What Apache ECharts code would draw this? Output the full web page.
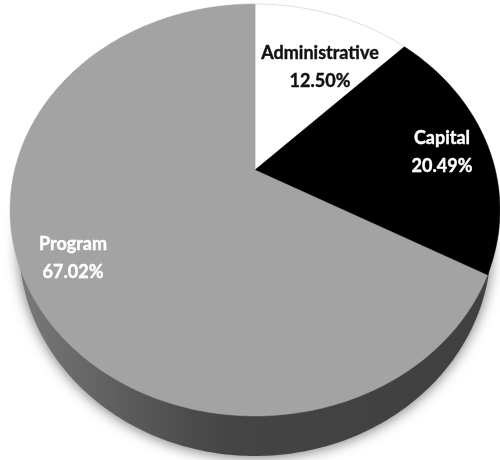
<!DOCTYPE html>
<html><head><meta charset="utf-8">
<style>html,body{margin:0;padding:0;background:#fff}#c{width:500px;height:460px}</style>
<script src="https://cdn.jsdelivr.net/npm/echarts@6/dist/echarts.min.js"></script>
</head><body><div id="c"></div>
<script>
const categories = ['Administrative', 'Capital', 'Program'];
const shares = [12.50, 20.49, 67.02];
const sliceColors = ['#ffffff', '#000000', '#a3a3a3'];
const labelColors = ['#111111', '#ffffff', '#ffffff'];

// Perspective view of the pie disc
const view = {cx: 255, cy: 210, a: 206, b: 40, c: 240.3, k: 0.194};
const labelAt = [[320, 67], [442, 152], [73, 258]];
const total = shares.reduce((s, v) => s + v, 0);
function project(r, t) {
  const u = r * Math.sin(t), v = r * Math.cos(t), w = 1 + view.k * v;
  return [view.cx + view.c * u / w, view.cy - (view.a * v + view.b) / w];
}
function slice(i) {
  let before = 0;
  for (let j = 0; j < i; j++) before += shares[j];
  const t0 = before / total * 2 * Math.PI, t1 = (before + shares[i]) / total * 2 * Math.PI;
  const n = Math.max(8, Math.ceil((t1 - t0) * 60));
  const pts = [project(0, 0)];
  for (let s = 0; s <= n; s++) pts.push(project(1, t0 + (t1 - t0) * s / n));
  return pts;
}
function wallPoints() {
  const pts = [];
  for (let s = 0; s < 360; s++) {
    const t = s / 360 * 2 * Math.PI;
    pts.push([255 + 236 * Math.cos(t), 245 + 211 * Math.sin(t)]);
  }
  return pts;
}
const chart = echarts.init(document.getElementById('c'), null, {renderer: 'canvas', width: 500, height: 460});
chart.setOption({
  backgroundColor: '#ffffff',
  animation: false,
  series: [
    {
      type: 'custom', coordinateSystem: 'none', silent: true, data: [shares[2]],
      renderItem: () => ({
        type: 'polygon', shape: {points: wallPoints()},
        style: {
          fill: new echarts.graphic.LinearGradient(0, 0, 1, 0, [
            {offset: 0, color: '#7a7a7a'}, {offset: 0.1, color: '#6c6c6c'},
            {offset: 0.24, color: '#5a5a5a'}, {offset: 0.38, color: '#4a4a4a'},
            {offset: 0.46, color: '#444444'}, {offset: 1, color: '#404040'}
          ]),
          shadowBlur: 14, shadowColor: 'rgba(0,0,0,0.55)', shadowOffsetY: 1
        }
      })
    },
    {
      type: 'custom', coordinateSystem: 'none', silent: true,
      data: categories.map((name, i) => ({name, value: shares[i]})),
      renderItem: (params) => {
        const i = params.dataIndex;
        return {
          type: 'polygon', shape: {points: slice(i)},
          style: {fill: sliceColors[i], stroke: i === 0 ? '#c8c8c8' : sliceColors[i], lineWidth: i === 0 ? 0.6 : 0.5}
        };
      }
    },
    {
      type: 'custom', coordinateSystem: 'none', silent: true, z: 5,
      data: categories.map((name, i) => ({name, value: shares[i]})),
      renderItem: (params) => {
        const i = params.dataIndex, p = labelAt[i];
        return {
          type: 'text', x: p[0], y: p[1],
          style: {
            text: categories[i] + '\n' + shares[i].toFixed(2) + '%',
            fill: labelColors[i], font: 'bold 18px Lato, sans-serif',
            stroke: labelColors[i], lineWidth: 0.4,
            align: 'center', verticalAlign: 'middle', lineHeight: 28
          }
        };
      }
    }
  ]
});
</script></body></html>
